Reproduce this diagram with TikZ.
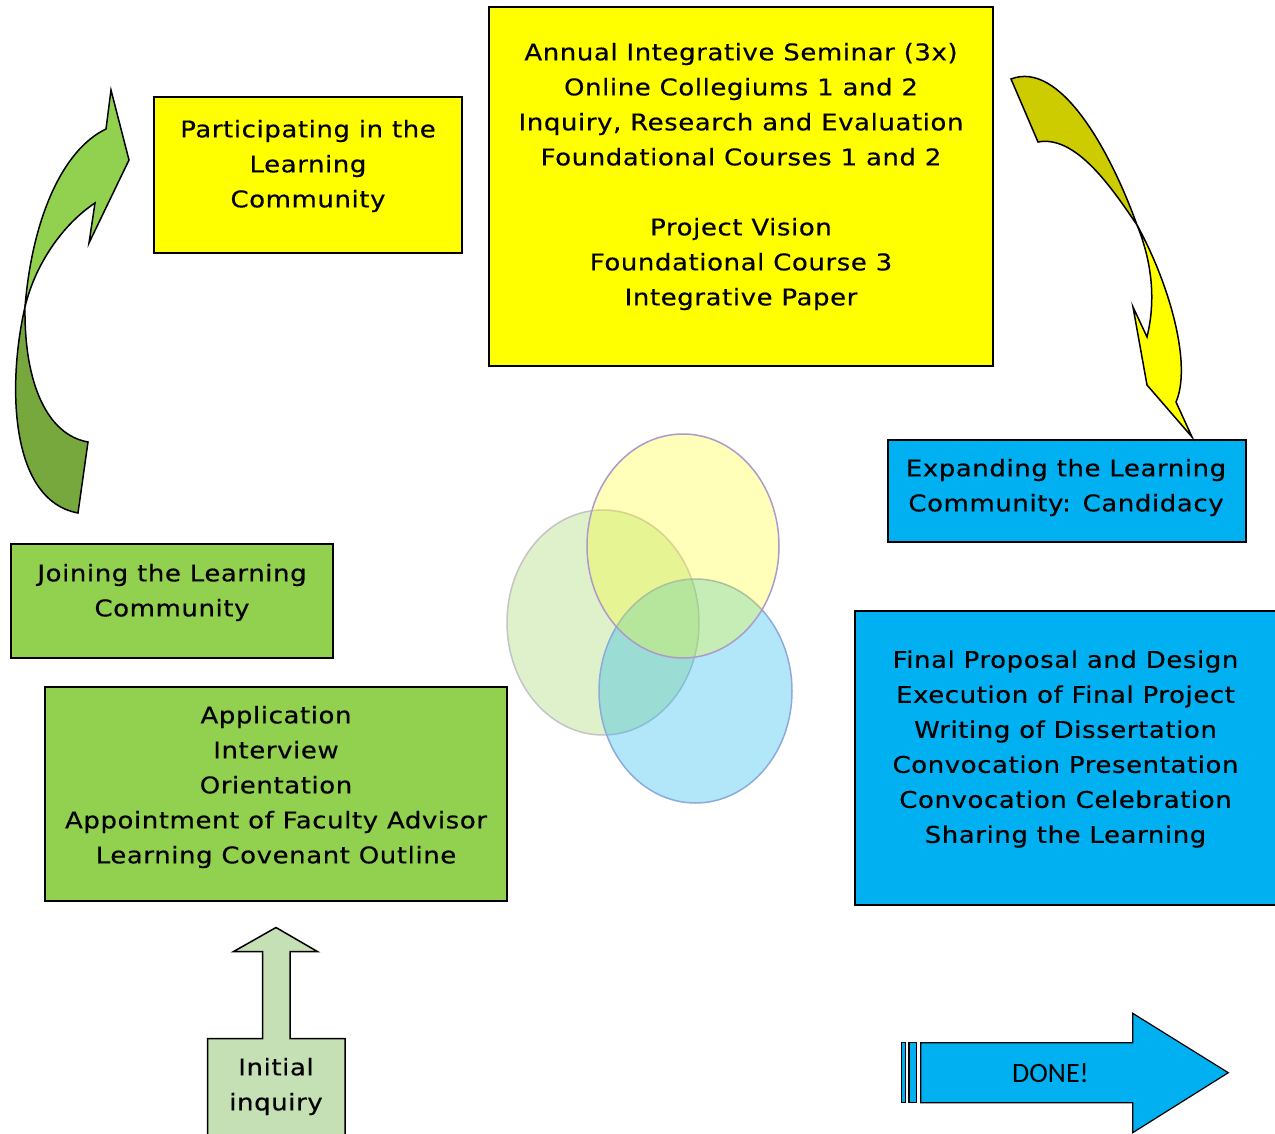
\documentclass[tikz,border=0pt]{standalone}
\usepackage{fontspec}
\setmainfont[FakeStretch=1.13,LetterSpace=2.5,FakeBold=0.4]{DejaVu Sans}
\newfontfamily\donefont{Carlito}
\definecolor{yel}{HTML}{FFFF00}
\definecolor{blu}{HTML}{00B0F0}
\definecolor{grn}{HTML}{92D050}
\definecolor{dgrn}{HTML}{76A83E}
\definecolor{lgrn}{HTML}{C5E0B4}
\definecolor{oliv}{HTML}{CCCC00}
\definecolor{purp}{HTML}{AC9ACB}
\definecolor{bedge}{HTML}{8EA9DB}
\definecolor{gedge}{HTML}{C4C4C4}
\begin{document}
\begin{tikzpicture}[x=1pt,y=-1pt,
  box/.style={draw=black, line width=1.5pt, anchor=north west, inner sep=0pt, outer sep=0pt},
  txt/.style={align=center, font=\fontsize{23}{35}\selectfont, inner sep=0pt, text=black},
  shp/.style={draw=black, line width=1.5pt, line join=miter},
  venn/.style={line width=1.5pt}]
\useasboundingbox (0,0) rectangle (1275,1134);
\clip (0,0) rectangle (1275,1134);

% boxes
\node[box, fill=yel, minimum width=308pt, minimum height=156pt] (part) at (154,97) {};
\node[txt] (partt) at (308,166) {Participating in the\\Learning\\Community};

\node[box, fill=yel, minimum width=504pt, minimum height=359pt] (sem) at (489,7) {};
\node[txt] (semt) at (741,176.5) {Annual Integrative Seminar (3x)\\Online Collegiums 1 and 2\\Inquiry, Research and Evaluation\\Foundational Courses 1 and 2\\[35pt]Project Vision\\Foundational Course 3\\Integrative Paper};

\node[box, fill=blu, minimum width=358pt, minimum height=102pt] (exp) at (888,440) {};
\node[txt] (expt) at (1066,487.5) {Expanding the Learning\\Community: Candidacy};

\node[box, fill=blu, minimum width=423pt, minimum height=294pt] (fin) at (855,611) {};
\node[txt] (fint) at (1065.5,749) {Final Proposal and Design\\Execution of Final Project\\Writing of Dissertation\\Convocation Presentation\\Convocation Celebration\\Sharing the Learning};

\node[box, fill=grn, minimum width=322pt, minimum height=114pt] (join) at (11,544) {};
\node[txt] (joint) at (172,592.5) {Joining the Learning\\Community};

\node[box, fill=grn, minimum width=462pt, minimum height=214pt] (app) at (45,687) {};
\node[txt] (appt) at (276,787) {Application\\Interview\\Orientation\\Appointment of Faculty Advisor\\Learning Covenant Outline};

% initial inquiry up arrow
\draw[shp, fill=lgrn] (207.5,1150) -- (207.5,1038.5) -- (262.7,1038.5) -- (262.7,951.7) -- (233.3,951.7)
  -- (276,927.5) -- (317.7,951.7) -- (290,951.7) -- (290,1038.5) -- (345,1038.5) -- (345,1150);
\node[txt] (init) at (276,1086.5) {Initial\\inquiry};

% DONE arrow
\draw[shp, fill=blu, line width=1.2pt] (901.7,1042.7) rectangle (905.7,1102.7);
\draw[shp, fill=blu, line width=1.2pt] (909,1042.7) rectangle (916.7,1102.7);
\draw[shp, fill=blu, line width=1.2pt] (920.7,1042.7) -- (1132.7,1042.7) -- (1132.7,1013.3) -- (1228.3,1072.7)
  -- (1132.7,1132.7) -- (1132.7,1102.7) -- (920.7,1102.7) -- cycle;
\node[font=\donefont\fontsize{28}{34}\selectfont, inner sep=0pt] (done) at (1050.5,1073) {DONE!};

% green curved arrow
\draw[shp, fill=dgrn] (25,307) .. controls (8,380) and (8,500) .. (78,513) -- (88,442)
  .. controls (48,435) and (24,385) .. (25,307) -- cycle;
\draw[shp, fill=grn] (25,307) .. controls (32,220) and (62,150) .. (106,129) -- (111,90) -- (129,160)
  -- (89,243) -- (95,203) .. controls (62,225) and (35,265) .. (25,307) -- cycle;

% yellow curved arrow
\draw[shp, fill=oliv] (1011,79) .. controls (1060,60) and (1110,150) .. (1137,225)
  .. controls (1110,185) and (1075,135) .. (1038,142) -- cycle;
\draw[shp, fill=yel] (1137,225) .. controls (1170,285) and (1192,365) .. (1176,402) -- (1192,437)
  -- (1147,385) -- (1133,307) -- (1147,337) .. controls (1156,300) and (1152,262) .. (1137,225) -- cycle;

% venn ellipses
\draw[venn, fill=grn, fill opacity=0.3, draw=gedge] (603,622.5) ellipse [x radius=96, y radius=112.5];
\draw[venn, fill=blu, fill opacity=0.3, draw=bedge] (695.5,691) ellipse [x radius=96.5, y radius=112];
\draw[venn, fill=yel, fill opacity=0.27, draw=purp] (683,546) ellipse [x radius=96, y radius=112];
\end{tikzpicture}
\end{document}
